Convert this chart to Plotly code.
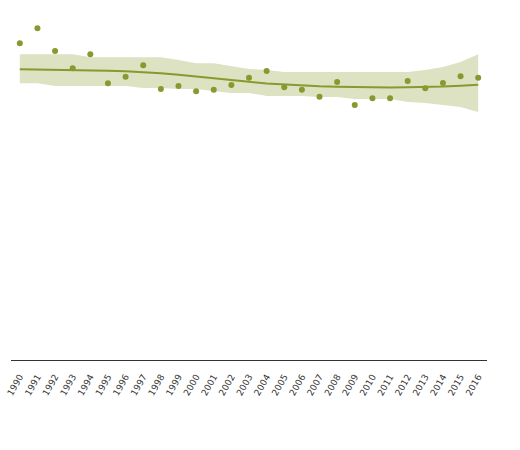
import plotly.graph_objects as go

years = list(range(1990, 2017))
# observed values (arbitrary units)
values = [31.67, 33.17, 30.9, 29.17, 30.57, 27.67, 28.33, 29.47, 27.1, 27.4, 26.87,
          27.03, 27.5, 28.23, 28.9, 27.27, 27.03, 26.33, 27.8, 25.5, 26.17, 26.17,
          27.9, 27.17, 27.7, 28.37, 28.23]
# smoothed trend
trend = [29.07, 29.05, 29.03, 29.02, 28.98, 28.93, 28.87, 28.78, 28.67, 28.52, 28.33,
         28.15, 27.97, 27.82, 27.65, 27.55, 27.45, 27.38, 27.33, 27.28, 27.25, 27.25,
         27.28, 27.3, 27.35, 27.43, 27.53]
upper = [30.57, 30.57, 30.57, 30.57, 30.27, 30.27, 30.27, 30.27, 30.27, 30.0, 29.67,
         29.67, 29.4, 29.1, 29.0, 28.8, 28.8, 28.8, 28.8, 28.8, 28.8, 28.8,
         28.8, 29.0, 29.3, 29.8, 30.57]
lower = [27.67, 27.67, 27.4, 27.4, 27.4, 27.4, 27.4, 27.2, 27.2, 27.1, 27.1,
         26.9, 26.7, 26.7, 26.4, 26.4, 26.4, 26.3, 26.3, 26.1, 26.1, 26.1,
         25.8, 25.7, 25.5, 25.3, 24.8]

GREEN = "#879a2f"
BAND = "#dce2c2"

fig = go.Figure()
fig.add_trace(go.Scatter(x=years, y=upper, mode="lines", line=dict(width=0),
                         hoverinfo="skip", showlegend=False))
fig.add_trace(go.Scatter(x=years, y=lower, mode="lines", line=dict(width=0),
                         fill="tonexty", fillcolor=BAND, hoverinfo="skip", showlegend=False))
fig.add_trace(go.Scatter(x=years, y=trend, mode="lines",
                         line=dict(color=GREEN, width=2), showlegend=False))
fig.add_trace(go.Scatter(x=years, y=values, mode="markers",
                         marker=dict(color=GREEN, size=6), showlegend=False))

fig.update_layout(
    width=520, height=450,
    margin=dict(l=11, r=33, t=10, b=90),
    paper_bgcolor="white", plot_bgcolor="white",
    font=dict(family="DejaVu Sans", size=9, color="#333333"),
    xaxis=dict(range=[1989.5, 2016.5], tickmode="array", tickvals=years,
               ticktext=[str(y) for y in years], tickangle=-60,
               showgrid=False, zeroline=False, showline=True, automargin=False,
               linecolor="#333333", linewidth=1, ticks="", ticklabelstandoff=7,
               ticklabeloverflow="allow"),
    yaxis=dict(range=[0, 35], visible=False, showgrid=False, zeroline=False,
               automargin=False),
)
fig.write_html("out.html", config={"displayModeBar": False},
               post_script="document.body.style.margin='0';")
